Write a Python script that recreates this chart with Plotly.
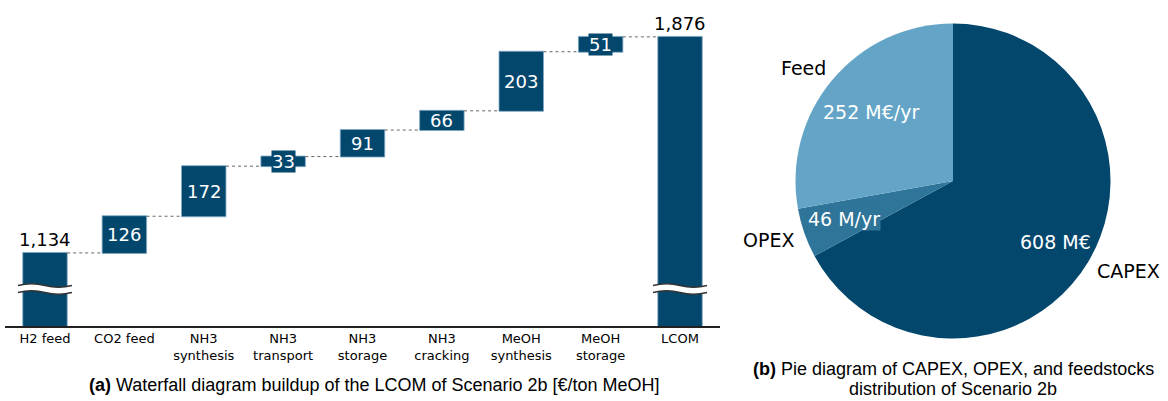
import math
import plotly.graph_objects as go

# ---- data -------------------------------------------------------------
steps = ["H2 feed", "CO2 feed", "NH3<br>synthesis", "NH3<br>transport", "NH3<br>storage",
         "NH3<br>cracking", "MeOH<br>synthesis", "MeOH<br>storage", "LCOM"]
step_values = [1134, 126, 172, 33, 91, 66, 203, 51, 1876]
step_measures = ["absolute"] + ["relative"] * 7 + ["total"]

cost_labels = ["CAPEX", "OPEX", "Feed"]
cost_values = [608, 46, 252]
cost_texts = ["608 M€", "46 M/yr", "252 M€/yr"]

# ---- styling ----------------------------------------------------------
DARK = "#04476d"
MID = "#2f7499"
LIGHT = "#64a5c7"
FONT = "DejaVu Sans"
CAP_FONT = "Liberation Sans, Arial"

W, H = 1168, 401
X_DOM = (5.3 / W, 719.7 / W)
Y_DOM = (75 / H, 381 / H)
Y_RANGE = (883, 1934)          # broken axis: lower part of the tall bars is cut away
BREAK_Y = 1010
PX_PER_UNIT = (Y_DOM[1] - Y_DOM[0]) * H / (Y_RANGE[1] - Y_RANGE[0])

fig = go.Figure()

fig.add_trace(go.Waterfall(
    x=steps, y=step_values, measure=step_measures,
    increasing=dict(marker=dict(color=DARK, line=dict(color="#7fa8c4", width=0.8))),
    totals=dict(marker=dict(color=DARK, line=dict(color="#7fa8c4", width=0.8))),
    decreasing=dict(marker=dict(color=DARK)),
    connector=dict(line=dict(color="#666666", width=1, dash="dot"), mode="between"),
    textinfo="none", hoverinfo="skip",
    xaxis="x", yaxis="y", showlegend=False,
))

fig.add_trace(go.Pie(
    labels=cost_labels, values=cost_values, sort=False, direction="clockwise", rotation=0,
    marker=dict(colors=[DARK, MID, LIGHT], line=dict(width=0)),
    textinfo="none", hoverinfo="skip", showlegend=False,
    domain=dict(x=[(953 - 157.5) / W, (953 + 157.5) / W], y=[(220 - 157.5) / H, (220 + 157.5) / H]),
))

annotations = []

# value labels on the waterfall; short bars get a label box in the bar colour
running = 0
for i, (name, v, m) in enumerate(zip(steps, step_values, step_measures)):
    if m == "relative":
        base = running
        running += v
        a = dict(x=name, y=base + v / 2, xref="x", yref="y", text=str(v),
                 xanchor="center", yanchor="middle",
                 showarrow=False, font=dict(family=FONT, size=18, color="white"))
        if v * PX_PER_UNIT < 18:
            a.update(bgcolor=DARK, borderpad=0)
        annotations.append(a)
    else:
        if m == "absolute":
            running = v
        annotations.append(dict(x=name, y=running, xref="x", yref="y", text=f"{running:,}",
                                showarrow=False, xanchor="center", yanchor="bottom", yshift=1,
                                font=dict(family=FONT, size=18, color="black")))


def xpaper(i):
    return X_DOM[0] + (i + 0.5) / len(steps) * (X_DOM[1] - X_DOM[0])


def wave(xa, xb, yc, amp):
    w = xb - xa
    return (f"{xa},{yc} C {xa + w / 6},{yc + amp} {xa + w / 3},{yc + amp} {xa + w / 2},{yc} "
            f"C {xa + 2 * w / 3},{yc - amp} {xa + 5 * w / 6},{yc - amp} {xb},{yc}")


def wave_rev(xa, xb, yc, amp):
    w = xb - xa
    return (f"{xb},{yc} C {xa + 5 * w / 6},{yc - amp} {xa + 2 * w / 3},{yc - amp} {xa + w / 2},{yc} "
            f"C {xa + w / 3},{yc + amp} {xa + w / 6},{yc + amp} {xa},{yc}")


shapes = []
half = 0.34 / len(steps) * (X_DOM[1] - X_DOM[0])
for i in (0, len(steps) - 1):
    xa, xb = xpaper(i) - half, xpaper(i) + half
    up, lo, amp = BREAK_Y + 12, BREAK_Y - 12, 8
    shapes.append(dict(type="path", xref="paper", yref="y", layer="above",
                       path=f"M {wave(xa, xb, up, amp)} L {wave_rev(xa, xb, lo, amp)} Z",
                       fillcolor="white", line=dict(width=0)))
    for yy in (up, lo):
        shapes.append(dict(type="path", xref="paper", yref="y", layer="above",
                           path=f"M {wave(xa, xb, yy, amp)}",
                           line=dict(color="#333333", width=1.4)))

# pie labels placed along each slice's mid-angle
cx, cy, r = 953 / W, 220 / H, 157.5
total = sum(cost_values)
start = 0.0
inner_k = [0.755, 0.73, 0.68]
outer_k = [1.25, 1.23, 1.19]
outer_turn = [-3.6, 1.6, -3.0]
inner_bg = [None, MID, None]
for lab, v, txt, ki, ko, turn, bg in zip(cost_labels, cost_values, cost_texts,
                                          inner_k, outer_k, outer_turn, inner_bg):
    sweep = 360 * v / total
    mid_deg = start + sweep / 2
    start += sweep
    mid = math.radians(mid_deg)
    a = dict(x=cx + math.sin(mid) * r * ki / W, y=cy + math.cos(mid) * r * ki / H,
             xref="paper", yref="paper", xanchor="center", yanchor="middle",
             text=txt, showarrow=False, font=dict(family=FONT, size=19, color="white"))
    if bg:
        a.update(bgcolor=bg, borderpad=0)
    annotations.append(a)
    outer = math.radians(mid_deg + turn)
    annotations.append(dict(x=cx + math.sin(outer) * r * ko / W, y=cy + math.cos(outer) * r * ko / H,
                            xref="paper", yref="paper", xanchor="center", yanchor="middle",
                            text=lab, showarrow=False, font=dict(family=FONT, size=19, color="black")))

# captions
cap = dict(xref="paper", yref="paper", showarrow=False, xanchor="center", yanchor="middle",
           font=dict(family=CAP_FONT, size=18, color="black"))
annotations.append(dict(cap, x=374.5 / W, y=(H - 385) / H,
                        text="<b>(a)</b> Waterfall diagram buildup of the LCOM of Scenario 2b [€/ton MeOH]"))
annotations.append(dict(cap, x=953 / W, y=(H - 369) / H,
                        text="<b>(b)</b> Pie diagram of CAPEX, OPEX, and feedstocks"))
annotations.append(dict(cap, x=953 / W, y=(H - 389) / H,
                        text="distribution of Scenario 2b"))

fig.update_layout(
    width=W, height=H, margin=dict(l=0, r=0, t=0, b=0),
    paper_bgcolor="white", plot_bgcolor="white",
    waterfallgap=0.44,
    xaxis=dict(domain=list(X_DOM), range=[-0.5, len(steps) - 0.5], showgrid=False, zeroline=False,
               showline=True, linecolor="#222222", linewidth=1.5, ticks="",
               tickfont=dict(family=FONT, size=13, color="black")),
    yaxis=dict(domain=list(Y_DOM), range=list(Y_RANGE), showgrid=False, zeroline=False,
               showticklabels=False, showline=False),
    annotations=annotations, shapes=shapes,
)

fig.write_html("out.html")
